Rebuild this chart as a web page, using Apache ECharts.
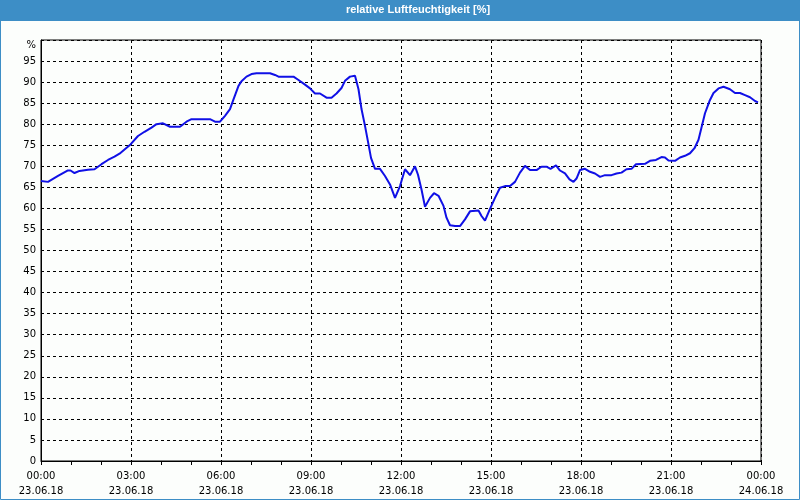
<!DOCTYPE html>
<html>
<head>
<meta charset="utf-8">
<script src="https://cdn.jsdelivr.net/npm/echarts@6/dist/echarts.min.js"></script>
<style>
html,body{margin:0;padding:0;background:#fcfefc;}
#chart{width:800px;height:500px;}
</style>
</head>
<body>
<div id="chart"></div>
<script>
// minutes since 23.06.18 00:00
var minutes = [0,14,34,53,59,67,77,94,107,121,134,147,157,179,194,207,221,231,244,258,278,291,301,338,348,358,368,378,385,395,401,411,421,431,458,468,475,505,515,528,538,548,558,571,581,591,601,608,618,628,635,641,648,655,660,668,678,688,698,708,718,728,738,748,754,761,768,778,786,795,805,811,818,828,838,848,858,875,881,888,898,908,918,928,938,948,958,968,978,991,1001,1011,1019,1030,1038,1048,1057,1065,1071,1078,1088,1098,1108,1118,1128,1141,1151,1161,1171,1181,1190,1208,1218,1230,1241,1248,1255,1268,1278,1288,1298,1307,1315,1321,1328,1337,1345,1355,1365,1378,1388,1398,1408,1418,1428,1434];
var humidity = [66.5,66.3,67.7,69.0,69.0,68.4,68.9,69.2,69.3,70.5,71.5,72.3,73.0,75.2,77.2,78.2,79.2,80.0,80.2,79.4,79.4,80.6,81.2,81.2,80.6,80.6,82.0,83.6,85.9,89.1,90.2,91.3,91.9,92.1,92.1,91.7,91.3,91.3,90.5,89.4,88.5,87.3,87.3,86.3,86.3,87.3,88.6,90.3,91.3,91.5,88.3,83.6,79.6,75.2,72.0,69.4,69.4,67.7,65.7,62.5,65.3,69.3,67.9,70.0,68.0,64.5,60.4,62.5,63.6,63.0,60.6,57.8,56.0,55.8,55.8,57.4,59.3,59.5,58.2,57.1,59.9,62.5,64.9,65.3,65.3,66.3,68.5,70.1,69.1,69.1,69.9,69.9,69.4,70.2,69.0,68.3,66.9,66.3,67.1,69.1,69.4,68.7,68.3,67.5,67.9,67.9,68.3,68.5,69.3,69.4,70.5,70.6,71.3,71.5,72.2,72.1,71.4,71.3,72.1,72.5,73.1,74.3,76.3,79.2,82.6,85.5,87.4,88.5,88.9,88.3,87.4,87.4,86.9,86.4,85.5,85.2];
var xTickLabels = ['00:00\n23.06.18','03:00\n23.06.18','06:00\n23.06.18','09:00\n23.06.18','12:00\n23.06.18','15:00\n23.06.18','18:00\n23.06.18','21:00\n23.06.18','00:00\n24.06.18'];
var yUnitLabel = '%';
var titleText = 'relative Luftfeuchtigkeit [%]';

var points = minutes.map(function(m,i){return [m, humidity[i]];});
var chart = echarts.init(document.getElementById('chart'), null, {renderer:'canvas'});
var FONT = 'DejaVu Sans';
chart.setOption({
  backgroundColor: '#fcfefc',
  animation: false,
  grid: {left:41, right:39, top:40, bottom:39, show:true, borderColor:'#000', borderWidth:1, backgroundColor:'transparent'},
  graphic: [
    {type:'rect', shape:{x:0,y:0,width:800,height:21}, style:{fill:'#3d8ec6'}, z:100},
    {type:'rect', shape:{x:0.5,y:0.5,width:799,height:499}, style:{fill:null, stroke:'#3d8ec6', lineWidth:1}, z:100},
    {type:'text', x:418, y:4, style:{text:titleText, fill:'#ffffff', font:'bold 11px "Liberation Sans"', textAlign:'center'}, z:101}
  ],
  xAxis: {
    type:'value', min:0, max:1440, interval:180,
    axisLine:{show:true, lineStyle:{color:'#000', width:1}},
    axisTick:{show:true, length:4, lineStyle:{color:'#000'}},
    minorTick:{show:true, splitNumber:3, length:4, lineStyle:{color:'#000'}},
    splitLine:{show:true, lineStyle:{color:'#000', type:[3,3], width:1}},
    axisLabel:{color:'#000', fontFamily:FONT, fontSize:10, lineHeight:15, margin:8,
      formatter:function(v){return xTickLabels[Math.round(v/180)];}}
  },
  yAxis: {
    type:'value', min:0, max:100, interval:5,
    axisLine:{show:true, lineStyle:{color:'#000', width:1}},
    axisTick:{show:false},
    splitLine:{show:true, lineStyle:{color:'#000', type:[3,3], width:1}},
    axisLabel:{color:'#000', fontFamily:FONT, fontSize:10, margin:5,
      formatter:function(v){return v===100 ? '{u|'+yUnitLabel+'}' : String(v);},
      rich:{u:{fontFamily:FONT, fontSize:10, color:'#000', padding:[11,0,0,0]}}}
  },
  series: [{
    type:'line', data:points, showSymbol:false, symbol:'none',
    lineStyle:{color:'#1010e6', width:2}, smooth:false, z:10
  }]
});
</script>
</body>
</html>
